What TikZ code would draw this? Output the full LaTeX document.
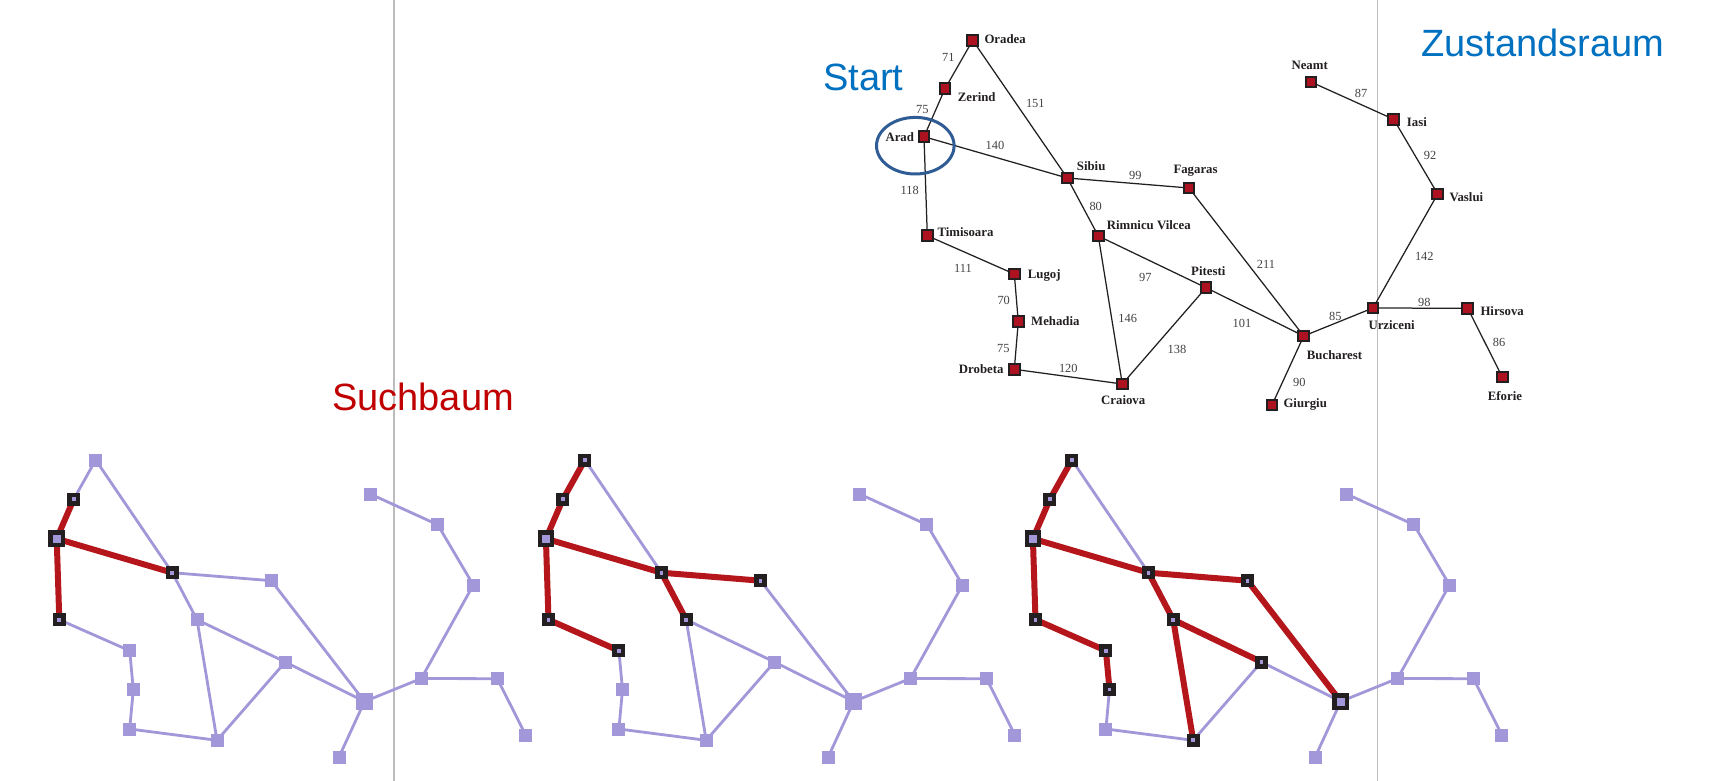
\documentclass[tikz,border=0pt]{standalone}
\usepackage{fontspec}
\setmainfont{Liberation Serif}
\newfontfamily\headfont{Liberation Sans}
\usetikzlibrary{backgrounds,shapes.geometric}
\definecolor{nodered}{HTML}{AC1220}
\definecolor{framedark}{HTML}{231F20}
\definecolor{lightviolet}{HTML}{A297D9}
\definecolor{pathred}{HTML}{B5161B}
\definecolor{rulegray}{HTML}{BDBDBD}
\definecolor{startblue}{HTML}{0070C0}
\definecolor{treered}{HTML}{C00000}
\definecolor{ringblue}{HTML}{2F5C94}
\tikzset{
  x=1pt,y=-1pt,
  square/.style={rectangle,inner sep=0pt,outer sep=0pt},
  citynode/.style={square,fill=nodered,draw=framedark,line width=1.9pt,minimum size=10.6pt},
  lightnode/.style={square,fill=lightviolet,minimum size=13pt},
  lightbig/.style={minimum size=17pt},
  framed/.style={draw=framedark,line width=4.6pt,minimum size=8.4pt},
  framedbig/.style={draw=framedark,line width=4.4pt,minimum size=12.4pt},
  roadedge/.style={draw=framedark,line width=1.25pt},
  lightedge/.style={draw=lightviolet,line width=2.8pt},
  pathedge/.style={draw=pathred,line width=6pt,line cap=round},
  citylabel/.style={anchor=base west,inner sep=0pt,font=\fontsize{12.8pt}{14pt}\selectfont\bfseries,text=framedark},
  distlabel/.style={anchor=base,inner sep=0pt,font=\fontsize{12.4pt}{14pt}\selectfont,text=framedark!85},
  headlabel/.style={anchor=base west,inner sep=0pt,font=\fontsize{38pt}{44pt}\selectfont\headfont},
  rulerline/.style={draw=rulegray,line width=1.5pt},
  ring/.style={ellipse,draw=ringblue,line width=3pt,inner sep=0pt,minimum width=77.6pt,minimum height=56.6pt},
  % state of the search in each of the three copies
  g1-zerind/.style={framed},g1-sibiu/.style={framed},g1-timisoara/.style={framed},
  g1-arad/.style={framedbig},
  g2-oradea/.style={framed},g2-zerind/.style={framed},g2-sibiu/.style={framed},g2-fagaras/.style={framed},
  g2-timisoara/.style={framed},g2-rimnicu/.style={framed},g2-lugoj/.style={framed},
  g2-arad/.style={framedbig},
  g3-oradea/.style={framed},g3-zerind/.style={framed},g3-sibiu/.style={framed},g3-fagaras/.style={framed},
  g3-timisoara/.style={framed},g3-rimnicu/.style={framed},g3-lugoj/.style={framed},g3-mehadia/.style={framed},
  g3-pitesti/.style={framed},g3-craiova/.style={framed},
  g3-arad/.style={framedbig},g3-bucharest/.style={framedbig},
}
\def\edgelist{oradea/zerind,oradea/sibiu,zerind/arad,arad/sibiu,arad/timisoara,timisoara/lugoj,lugoj/mehadia,mehadia/drobeta,drobeta/craiova,sibiu/fagaras,sibiu/rimnicu,rimnicu/pitesti,rimnicu/craiova,pitesti/craiova,pitesti/bucharest,fagaras/bucharest,bucharest/giurgiu,bucharest/urziceni,urziceni/hirsova,hirsova/eforie,urziceni/vaslui,vaslui/iasi,iasi/neamt}
% one copy of the pale map: prefix, x shift, list of highlighted edges
\newcommand{\palemap}[3]{%
  \begin{scope}[xshift=#2pt]
    \foreach \n/\s/\px/\py in {oradea/0/95.7/460,zerind/0/73.7/499.3,arad/1/56.7/538.7,timisoara/0/59.3/619.7,
      sibiu/0/172.3/572.7,fagaras/0/271.3/580.7,rimnicu/0/197/619.7,lugoj/0/129.7/650.7,mehadia/0/133.3/689.5,
      drobeta/0/129.7/729,craiova/0/217/740.3,pitesti/0/285.3/662,bucharest/1/364.5/701.5,giurgiu/0/339/757,
      urziceni/0/421.3/678.5,hirsova/0/497.3/678.7,eforie/0/525.7/735,vaslui/0/473.3/585,iasi/0/437.7/524.7,neamt/0/370.3/494}
      {\ifnum\s=1 \def\sz{lightbig}\else\def\sz{lightnode}\fi
       \node[lightnode,\sz,#1-\n/.try] (#1-\n) at (\px,\py) {};}
  \end{scope}
  \begin{scope}[on background layer]
    \foreach \a/\b in \edgelist {\draw[lightedge] (#1-\a.center) -- (#1-\b.center);}
    \foreach \a/\b in {#3} {\draw[pathedge] (#1-\a.center) -- (#1-\b.center);}
  \end{scope}
}
\begin{document}
\begin{tikzpicture}
\useasboundingbox (0,0) rectangle (1717,781);
% rulers
\coordinate (rulerAtop) at (394,0);
\coordinate (rulerAbot) at (394,781);
\coordinate (rulerBtop) at (1377.7,0);
\coordinate (rulerBbot) at (1377.7,781);
\begin{scope}[on background layer]
  \fill[white] (0,0) rectangle (1717,781);
  \draw[rulerline] (rulerAtop) -- (rulerAbot);
  \draw[rulerline] (rulerBtop) -- (rulerBbot);
\end{scope}
% state space map
\foreach \n/\px/\py in {oradea/972.7/40.3,zerind/945/88.7,arad/924/136.7,timisoara/927.3/235.7,lugoj/1014.3/274,
  mehadia/1018.3/321.7,drobeta/1014.3/369.3,sibiu/1067.3/178,rimnicu/1098.3/236,craiova/1122.3/384,
  fagaras/1189/188,pitesti/1206/287.7,bucharest/1303.7/336,urziceni/1373/308,hirsova/1467.7/308.3,
  eforie/1502.3/377,vaslui/1437.7/194,iasi/1393.7/119.3,neamt/1311/82,giurgiu/1272/405}
  {\node[citynode] (top-\n) at (\px,\py) {};}
\begin{scope}[on background layer]
  \foreach \a/\b in \edgelist {\draw[roadedge] (top-\a.center) -- (top-\b.center);}
\end{scope}
\foreach \t/\n/\px/\py in {Oradea/oradea/984.3/44,Zerind/zerind/957.7/101.7,Arad/arad/885.3/141.7,
  Timisoara/timisoara/937.3/236,Lugoj/lugoj/1027.7/278.7,Mehadia/mehadia/1031/325.7,Drobeta/drobeta/958.7/373.3,
  Sibiu/sibiu/1076.7/171,Rimnicu Vilcea/rimnicu/1106.7/229.3,Fagaras/fagaras/1173.3/173.3,Pitesti/pitesti/1191/275,
  Neamt/neamt/1291.3/70,Iasi/iasi/1406.7/126.7,Vaslui/vaslui/1449.3/201,Hirsova/hirsova/1480.3/315,
  Urziceni/urziceni/1368.3/329,Bucharest/bucharest/1306.7/359,Craiova/craiova/1101/404.5,Giurgiu/giurgiu/1283.3/407.3,
  Eforie/eforie/1487.7/400.7}
  {\node[citylabel] (label-\n) at (\px,\py) {\t};}
\foreach \t/\px/\py [count=\i] in {71/948.3/62,75/922.3/114,151/1035.3/108,140/995/150,118/909.7/194.3,80/1095.7/211,
  111/963/272.3,70/1003.7/304,75/1003.3/352.7,120/1068.3/372.7,146/1127.7/322,99/1135.3/180,87/1361/97.7,92/1430/160,
  142/1424.3/260,211/1266/268.3,97/1145.3/281.7,138/1177/353.3,101/1242/327,85/1335.3/320,98/1424.3/306.3,86/1499/346.7,
  90/1299.3/386.3}
  {\node[distlabel] (dist\i) at (\px,\py) {\t};}
\node[ring] (startring) at (915.3,145.7) {};
\node[headlabel,text=startblue] (starthead) at (823,91) {Start};
\node[headlabel,text=startblue] (statehead) at (1421,56.5) {Zustandsraum};
\node[headlabel,text=treered] (treehead) at (332,410) {Suchbaum};
% search tree, three stages
\palemap{g1}{0}{arad/zerind,arad/sibiu,arad/timisoara}
\palemap{g2}{489.2}{arad/zerind,zerind/oradea,arad/sibiu,arad/timisoara,sibiu/fagaras,sibiu/rimnicu,timisoara/lugoj}
\palemap{g3}{976.2}{arad/zerind,zerind/oradea,arad/sibiu,arad/timisoara,sibiu/fagaras,sibiu/rimnicu,timisoara/lugoj,lugoj/mehadia,rimnicu/pitesti,rimnicu/craiova,fagaras/bucharest}
\end{tikzpicture}
\end{document}
